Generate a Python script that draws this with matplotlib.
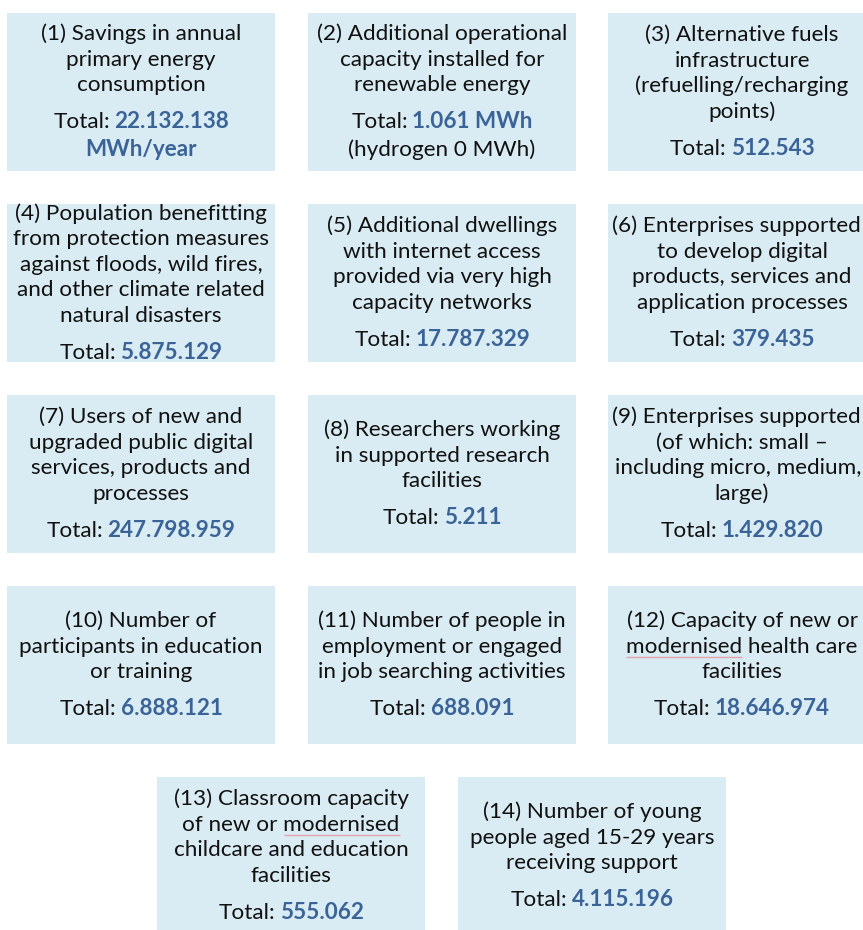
import matplotlib
matplotlib.use("Agg")
import matplotlib.pyplot as plt
from matplotlib.patches import Rectangle

# ---------------- data ----------------
titles = [
    "(1) Savings in annual\nprimary energy\nconsumption",
    "(2) Additional operational\ncapacity installed for\nrenewable energy",
    "(3) Alternative fuels\ninfrastructure\n(refuelling/recharging\npoints)",
    "(4) Population benefitting\nfrom protection measures\nagainst floods, wild fires,\nand other climate related\nnatural disasters",
    "(5) Additional dwellings\nwith internet access\nprovided via very high\ncapacity networks",
    "(6) Enterprises supported\nto develop digital\nproducts, services and\napplication processes",
    "(7) Users of new and\nupgraded public digital\nservices, products and\nprocesses",
    "(8) Researchers working\nin supported research\nfacilities",
    "(9) Enterprises supported\n(of which: small –\nincluding micro, medium,\nlarge)",
    "(10) Number of\nparticipants in education\nor training",
    "(11) Number of people in\nemployment or engaged\nin job searching activities",
    "(12) Capacity of new or\nmodernised health care\nfacilities",
    "(13) Classroom capacity\nof new or modernised\nchildcare and education\nfacilities",
    "(14) Number of young\npeople aged 15-29 years\nreceiving support",
]
totals = [22132138, 1061, 512543, 5875129, 17787329, 379435, 247798959,
          5211, 1429820, 6888121, 688091, 18646974, 555062, 4115196]
units = ["MWh/year", "MWh", "", "", "", "", "", "", "", "", "", "", "", ""]
unit_on_new_line = [True] + [False] * 13
notes = ["", "(hydrogen 0 MWh)", "", "", "", "", "", "", "", "", "", "", "", ""]
flagged_words = {12: "modernised", 13: "modernised"}

# ---------------- style ----------------
W, H = 863, 930
BOX_FILL = "#DAECF3"
NUM_COLOR = "#3A6397"
TXT_COLOR = "#111111"
FONT = "Lato"
FS = 16.2
LINE = 25.5
GAP_TOTAL = 37
GAP_EXTRA = 28

fig = plt.figure(figsize=(W / 100, H / 100), dpi=100)
ax = fig.add_axes([0, 0, 1, 1])
ax.set_xlim(0, W)
ax.set_ylim(H, 0)
ax.axis("off")
r = fig.canvas.get_renderer()

col_x = [7, 308, 608]
row_y = [13, 204, 395, 586, 777]
last_row_x = [157, 458]
BW, BH = 268, 158

norm_kw = dict(fontfamily=FONT, fontsize=FS, color=TXT_COLOR)
bold_kw = dict(fontfamily=FONT, fontsize=FS, color=NUM_COLOR, fontweight="bold")


def width(s, kw):
    t = ax.text(0, 0, s, **kw)
    w = t.get_window_extent(r).width
    t.remove()
    return w


space_w = (width("a a", norm_kw) - width("aa", norm_kw)) * 0.75


def mixed(xc, y, parts):
    ws = [width(s, kw) for s, kw in parts]
    tot = sum(ws) + space_w * (len(parts) - 1)
    x = xc - tot / 2
    for (s, kw), w in zip(parts, ws):
        ax.text(x, y, s, ha="left", va="baseline", **kw)
        x += w + space_w


def fmt(v):
    return f"{v:,}".replace(",", ".")


for i, title in enumerate(titles):
    if i < 12:
        x0 = col_x[i % 3]
        y0 = row_y[i // 3]
    else:
        x0 = last_row_x[i - 12]
        y0 = row_y[4]
    ax.add_patch(Rectangle((x0, y0), BW, BH, facecolor=BOX_FILL,
                           edgecolor="none", zorder=0))
    lines = title.split("\n")
    extra = unit_on_new_line[i] or bool(notes[i])
    block = (len(lines) - 1) * LINE + GAP_TOTAL + (GAP_EXTRA if extra else 0)
    xc = x0 + BW / 2
    yc = y0 + BH / 2 - 2
    ytop = yc - block / 2
    off = 8  # baseline offset from visual centre
    for j, ln in enumerate(lines):
        yb = ytop + j * LINE + off
        lw = width(ln, norm_kw)
        xl = min(xc, W - 2 - lw / 2)  # keep the line inside the picture
        ax.text(xl, yb, ln, ha="center", va="baseline", **norm_kw)
        word = flagged_words.get(i + 1)
        if word and word in ln:
            k = ln.index(word)
            pre = 0
            if k > 0:
                pre = width(ln[:k] + word, norm_kw) - width(word, norm_kw)
            ww = width(word, norm_kw)
            xs = xl - lw / 2 + pre
            ax.plot([xs, xs + ww], [yb + 4.5, yb + 4.5], color="#E6A3AB",
                    lw=1.0, solid_capstyle="butt")
    yt = ytop + (len(lines) - 1) * LINE + GAP_TOTAL + off
    numtxt = fmt(totals[i])
    if units[i] and not unit_on_new_line[i]:
        numtxt += " " + units[i]
    mixed(xc, yt, [("Total:", norm_kw), (numtxt, bold_kw)])
    if unit_on_new_line[i]:
        ax.text(xc, yt + GAP_EXTRA, units[i], ha="center", va="baseline", **bold_kw)
    elif notes[i]:
        ax.text(xc, yt + GAP_EXTRA, notes[i], ha="center", va="baseline", **norm_kw)

fig.savefig("out.png", dpi=100, facecolor="white")
